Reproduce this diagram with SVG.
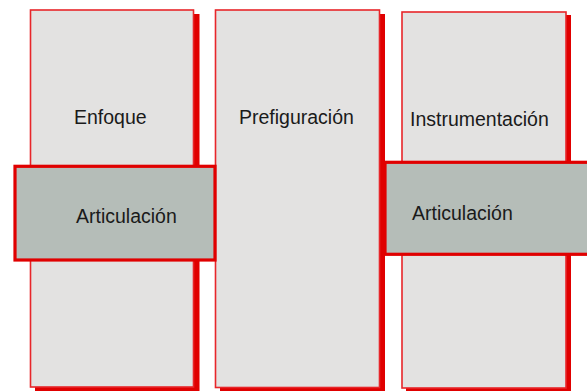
<svg xmlns="http://www.w3.org/2000/svg" width="587" height="391" viewBox="0 0 587 391">
<style>
.shadow{fill:#e00000;}
.col{fill:#e3e2e1;stroke:#e8262a;stroke-width:1.6;}
.art{fill:#b5bdb8;stroke:#e00000;stroke-width:3.2;}
.lbl{font-family:"Liberation Sans",Arial,sans-serif;font-size:19.5px;fill:#1a1a1a;}
</style>
<rect width="587" height="391" fill="#ffffff"/>
<g id="enfoque">
<rect class="shadow" x="35" y="14" width="164.5" height="380"/>
<rect class="col" x="30.5" y="10" width="163" height="377"/>
<text class="lbl" x="74" y="124">Enfoque</text>
</g>
<g id="prefiguracion">
<rect class="shadow" x="220" y="14" width="165" height="380"/>
<rect class="col" x="215.5" y="10" width="164" height="377.5"/>
<text class="lbl" x="239" y="124">Prefiguración</text>
</g>
<g id="instrumentacion">
<rect class="shadow" x="406" y="15" width="165" height="380"/>
<rect class="col" x="402" y="12" width="164" height="376"/>
<text class="lbl" x="410" y="126">Instrumentación</text>
</g>
<g id="articulacion-izq">
<rect class="art" x="15" y="166.3" width="200" height="93.7"/>
<text class="lbl" x="76" y="222.5">Articulación</text>
</g>
<g id="articulacion-der">
<rect class="art" x="385" y="162.3" width="210" height="92"/>
<text class="lbl" x="412" y="219.5">Articulación</text>
</g>
<g id="connectors"></g>
</svg>
